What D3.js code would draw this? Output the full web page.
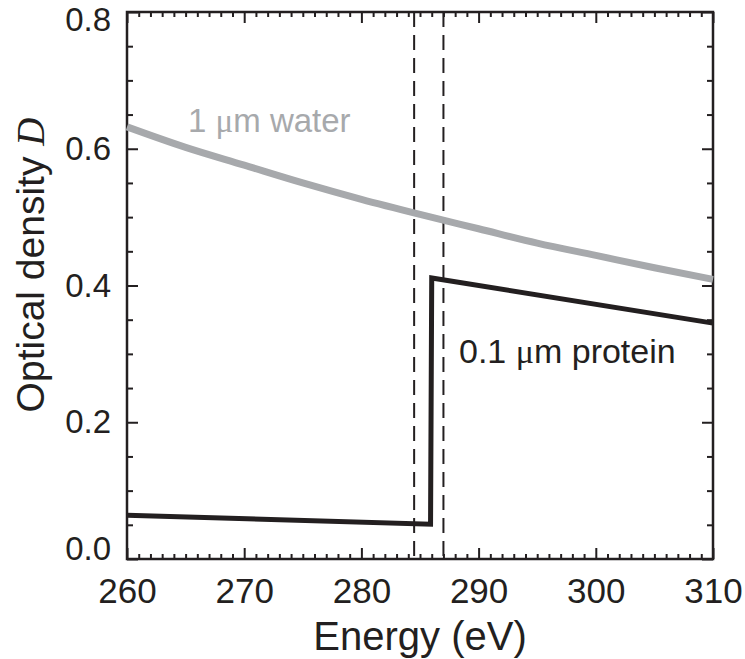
<!DOCTYPE html>
<html lang="en">
<head>
<meta charset="UTF-8" />
<title>Optical density</title>
<style>
  body { margin: 0; background: #fff; }
  text { font-family: "Liberation Sans", Arial, Helvetica, sans-serif; fill: #231f20; }
  .mu { font-family: "Liberation Serif", "Times New Roman", serif; }
</style>
</head>
<body>
<script src="https://cdn.jsdelivr.net/npm/d3@7/dist/d3.min.js"></script>
<script>
// water: 1 um, smooth decrease
var waterE = [260, 265, 270, 275, 280, 285, 290, 295, 300, 305, 310];
var waterD = [0.632, 0.602, 0.576, 0.550, 0.526, 0.504, 0.483, 0.462, 0.444, 0.426, 0.409];

// protein: 0.1 um, carbon edge near 286 eV
var proteinE = [260, 285.9, 286.0, 310];
var proteinD = [0.064, 0.051, 0.411, 0.345];

// dashed reference lines (eV)
var edgeLines = [284.5, 287.0];

var xTicks = [260, 270, 280, 290, 300, 310];
var yTicks = [0.0, 0.2, 0.4, 0.6, 0.8];

var W = 745, H = 659;
var pL = 127, pR = 713, pT = 12, pB = 559;

var svg = d3.select("body").append("svg")
    .attr("width", W)
    .attr("height", H);

var x = d3.scaleLinear().domain([260, 310]).range([pL, pR]);
var y = d3.scaleLinear().domain([0, 0.8]).range([pB, pT]);

// minor + major ticks on all four sides
var minorX = d3.range(261, 310, 1).filter(function(v) { return v % 10 != 0; });
var minorY = [0.05, 0.1, 0.15, 0.25, 0.3, 0.35, 0.45, 0.5, 0.55, 0.65, 0.7, 0.75];

function tickAxis(axisFn, scale, vals, size, tr, fmt) {
  var a = axisFn(scale).tickValues(vals).tickSize(size).tickPadding(10);
  if (fmt) a.tickFormat(fmt); else a.tickFormat("");
  var g = svg.append("g").attr("transform", tr).call(a);
  g.select(".domain").remove();
  g.selectAll("line").attr("stroke", "#231f20").attr("stroke-width", 2);
  return g;
}

// bottom
tickAxis(d3.axisTop, x, minorX, 5, "translate(0," + pB + ")");
var xb = tickAxis(d3.axisTop, x, xTicks, 11, "translate(0," + pB + ")", d3.format("d"));
xb.selectAll("text").attr("y", 19).attr("dy", "0.71em").style("font-size", "35px");
// top
tickAxis(d3.axisBottom, x, minorX, 5, "translate(0," + pT + ")");
tickAxis(d3.axisBottom, x, xTicks, 11, "translate(0," + pT + ")");
// left
tickAxis(d3.axisRight, y, minorY, 6, "translate(" + pL + ",0)");
var yl = tickAxis(d3.axisRight, y, yTicks, 11, "translate(" + pL + ",0)", d3.format(".1f"));
yl.selectAll("text")
    .attr("x", -16)
    .attr("text-anchor", "end")
    .attr("y", function(d) { return d === 0.8 ? 8 : (d === 0 ? -10 : 0); })
    .style("font-size", "33px");
// right
tickAxis(d3.axisLeft, y, minorY, 6, "translate(" + pR + ",0)");
tickAxis(d3.axisLeft, y, yTicks, 11, "translate(" + pR + ",0)");

// frame
svg.append("rect")
    .attr("x", pL).attr("y", pT)
    .attr("width", pR - pL).attr("height", pB - pT)
    .attr("fill", "none").attr("stroke", "#231f20").attr("stroke-width", 2.5);

// dashed lines
svg.selectAll("line.edge")
    .data(edgeLines)
  .enter().append("line")
    .attr("class", "edge")
    .attr("x1", function(d) { return x(d); })
    .attr("x2", function(d) { return x(d); })
    .attr("y1", y(0.8)).attr("y2", y(0))
    .attr("stroke", "#231f20")
    .attr("stroke-width", 2)
    .attr("stroke-dasharray", "15,8");

var line = d3.line()
    .x(function(d) { return x(d[0]); })
    .y(function(d) { return y(d[1]); });

var water = waterE.map(function(e, i) { return [e, waterD[i]]; });
var protein = proteinE.map(function(e, i) { return [e, proteinD[i]]; });

svg.append("path")
    .datum(water)
    .attr("d", line.curve(d3.curveMonotoneX))
    .attr("fill", "none")
    .attr("stroke", "#a7a9ac")
    .attr("stroke-width", 7);

svg.append("path")
    .datum(protein)
    .attr("d", line.curve(d3.curveLinear))
    .attr("fill", "none")
    .attr("stroke", "#231f20")
    .attr("stroke-width", 5)
    .attr("stroke-linejoin", "miter");

// labels
var wl = svg.append("text")
    .attr("x", 188).attr("y", 132)
    .style("font-size", "33px")
    .style("fill", "#a7a9ac");
wl.append("tspan").text("1 ");
wl.append("tspan").attr("class", "mu").style("fill", "#a7a9ac").text("\u03bc");
wl.append("tspan").text("m water");

var pl = svg.append("text")
    .attr("x", 459).attr("y", 363)
    .style("font-size", "34px");
pl.append("tspan").text("0.1 ");
pl.append("tspan").attr("class", "mu").text("\u03bc");
pl.append("tspan").text("m protein");

// axis titles
svg.append("text")
    .attr("x", (pL + pR) / 2).attr("y", 650)
    .attr("text-anchor", "middle")
    .style("font-size", "40px")
    .text("Energy (eV)");

var yt = svg.append("text")
    .attr("transform", "translate(44,265) rotate(-90)")
    .attr("text-anchor", "middle")
    .style("font-size", "39px");
yt.append("tspan").text("Optical density ");
yt.append("tspan").attr("class", "mu").style("font-style", "italic").text("D");
</script>
</body>
</html>
